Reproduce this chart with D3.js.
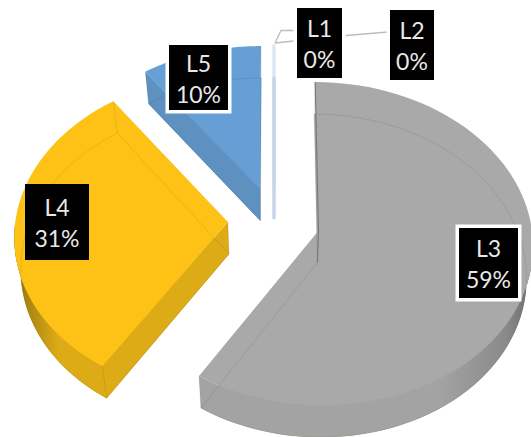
<!DOCTYPE html>
<html>
<head>
<meta charset="utf-8">
<style>
html,body{margin:0;padding:0;background:#fff;overflow:hidden}
svg{display:block}
text{font-family:Lato,"Open Sans",sans-serif}
</style>
<script src="https://cdn.jsdelivr.net/npm/d3@7"></script>
</head>
<body>
<svg id="chart" width="531" height="437"></svg>
<script>
// Chart values
const categories = ["L1", "L2", "L3", "L4", "L5"];
const shares = [0, 0, 59, 31, 10];

// Colours per category
const topColors  = ["#dce7f5", "#dce7f5", "#a9a9a9", "#fec217", "#659fd6"];
const wallColors = ["#c6d4ea", "#c6d4ea", "#a3a3a3", "#dcab16", "#5e90c0"];
const rimDark    = ["#c6d4ea", "#c6d4ea", "#6a6a6a", "#6f5710", "#5e90c0"];

// Label boxes: left, top, right, bottom of the black plate, and whether it has a white rim
const labelBoxes = [
  [297, 8, 342, 78, true],
  [390, 10, 434, 80, true],
  [459, 228, 518, 298, true],
  [25, 184, 89, 260, false],
  [169, 45, 228, 110, true]
];

// Scene geometry of the tilted, exploded pie
const W = 531, H = 437;
const cx = 274, cy = 221, radiusX = 212.5, radiusY = 159;
const explode = 0.217, perspective = 0.08, depth = 32, floorShrink = 0.975;

const svg = d3.select("#chart");
const defs = svg.append("defs");
const xScale = d3.scaleLinear().domain([-1, 1]).range([cx - radiusX, cx + radiusX]);
const yScale = d3.scaleLinear().domain([-1, 1]).range([cy + radiusY, cy - radiusY]);

// World (x across, y away from the viewer) to screen, at the top or the floor of the solid
function project(wx, wy, floor) {
  const s = 1 / (1 + perspective * wy);
  let px = xScale(wx * s), py = yScale(wy * s);
  if (floor) { px = cx + (px - cx) * floorShrink; py += depth; }
  return [px, py];
}

const slices = d3.pie().sort(null).startAngle(0).endAngle(2 * Math.PI)(shares);
const line = d3.line();

// Draws back to front so the nearer solids cover the farther ones
const order = [4, 0, 1, 3, 2];

order.forEach(i => {
  const d = slices[i];
  const mid = (d.startAngle + d.endAngle) / 2;
  const ox = explode * Math.sin(mid), oy = explode * Math.cos(mid);
  const rim = (a, floor) => project(ox + Math.sin(a), oy + Math.cos(a), floor);
  const apex = floor => project(ox, oy, floor);
  const g = svg.append("g").attr("class", "slice-" + categories[i]);

  const span = d.endAngle - d.startAngle;
  if (span === 0) {
    // A zero share collapses to a thin upright sliver
    g.append("path")
      .attr("d", line([rim(d.startAngle, false), apex(false)]))
      .attr("stroke", topColors[i]).attr("stroke-width", 3).attr("fill", "none");
    g.append("path")
      .attr("d", line([rim(d.startAngle, true), apex(true)]))
      .attr("stroke", wallColors[i]).attr("stroke-width", 3).attr("fill", "none");
    return;
  }

  const steps = d3.range(0, 81).map(k => d.startAngle + span * k / 80);
  const outline = floor => [apex(floor), ...steps.map(a => rim(a, floor))];

  // Floor of the solid
  g.append("path").attr("d", line(outline(true)) + "Z").attr("fill", wallColors[i]);

  // Curved outer wall, only where it turns toward the viewer
  const front = steps.filter(a => Math.cos(a) < 0);
  if (front.length > 1) {
    const xs = front.map(a => rim(a, false)[0]);
    const x0 = d3.min(xs), x1 = d3.max(xs);
    const darkRight = Math.sin(front[0]) > 0.5;
    const id = "wall-" + categories[i];
    const grad = defs.append("linearGradient").attr("id", id)
      .attr("gradientUnits", "userSpaceOnUse")
      .attr("x1", x0).attr("x2", x1).attr("y1", 0).attr("y2", 0);
    const stops = darkRight
      ? [[0, wallColors[i]], [0.72, wallColors[i]], [0.92, "#8a8a8a"], [1, rimDark[i]]]
      : [[0, rimDark[i]], [0.12, "#a5830f"], [0.5, wallColors[i]], [1, wallColors[i]]];
    stops.forEach(s => grad.append("stop").attr("offset", s[0]).attr("stop-color", s[1]));
    const wall = [...front.map(a => rim(a, false)), ...front.slice().reverse().map(a => rim(a, true))];
    g.append("path").attr("d", line(wall) + "Z").attr("fill", `url(#${id})`);
  }

  // Flat cut walls that face the viewer
  [[d.startAngle, Math.sin(d.startAngle) < -1e-6], [d.endAngle, Math.sin(d.endAngle) > 1e-6]]
    .filter(w => w[1])
    .forEach(w => {
      const quad = [apex(false), rim(w[0], false), rim(w[0], true), apex(true)];
      g.append("path").attr("d", line(quad) + "Z").attr("fill", wallColors[i]);
    });

  // Top face
  g.append("path").attr("d", line(outline(false)) + "Z").attr("fill", topColors[i]);

  // Edges of the translucent solid, showing faintly through the surfaces
  const faint = "rgba(60,50,20,0.11)";
  g.append("path").attr("d", line(outline(true)) + "Z")
    .attr("fill", "none").attr("stroke", faint).attr("stroke-width", 1);
  [d.startAngle, d.endAngle].forEach(a => {
    g.append("path").attr("d", line([rim(a, false), rim(a, true)]))
      .attr("fill", "none").attr("stroke", faint).attr("stroke-width", 1);
  });
  g.append("path").attr("d", line([apex(false), apex(true)]))
    .attr("fill", "none").attr("stroke", faint).attr("stroke-width", 1);

  // Darker seam where the cut wall at twelve o'clock is seen edge-on
  if (d.startAngle === 0) {
    g.append("path").attr("d", line([rim(0, false), apex(false), apex(true)]))
      .attr("fill", "none").attr("stroke", "#7a7a7a").attr("stroke-width", 1.2);
  }
});

// Leader lines from the zero-share labels to their slivers
const leaders = [
  [[297, 30.5], [281, 30.5], [275, 43]],
  [[388, 32], [346, 35.5], [275, 43]]
];
svg.append("g").selectAll("path").data(leaders).join("path")
  .attr("d", d => line(d)).attr("fill", "none")
  .attr("stroke", "#bdbdbd").attr("stroke-width", 1.3);

// Data labels: black plates with the category and its share
const labels = svg.append("g").selectAll("g").data(categories).join("g");
labels.each(function (name, i) {
  const [l, t, r, b, rimmed] = labelBoxes[i];
  const g = d3.select(this);
  if (rimmed) {
    g.append("rect").attr("x", l - 3.5).attr("y", t - 3.5)
      .attr("width", r - l + 7).attr("height", b - t + 7).attr("fill", "#fff");
  }
  g.append("rect").attr("x", l).attr("y", t)
    .attr("width", r - l).attr("height", b - t).attr("fill", "#000");
  const mx = (l + r) / 2, my = (t + b) / 2;
  g.append("text").attr("x", mx).attr("y", my - 6)
    .attr("text-anchor", "middle").attr("font-size", 23).attr("fill", "#e8e8e8").text(name);
  g.append("text").attr("x", mx).attr("y", my + 25)
    .attr("text-anchor", "middle").attr("font-size", 23).attr("fill", "#e8e8e8").text(shares[i] + "%");
});
</script>
</body>
</html>
